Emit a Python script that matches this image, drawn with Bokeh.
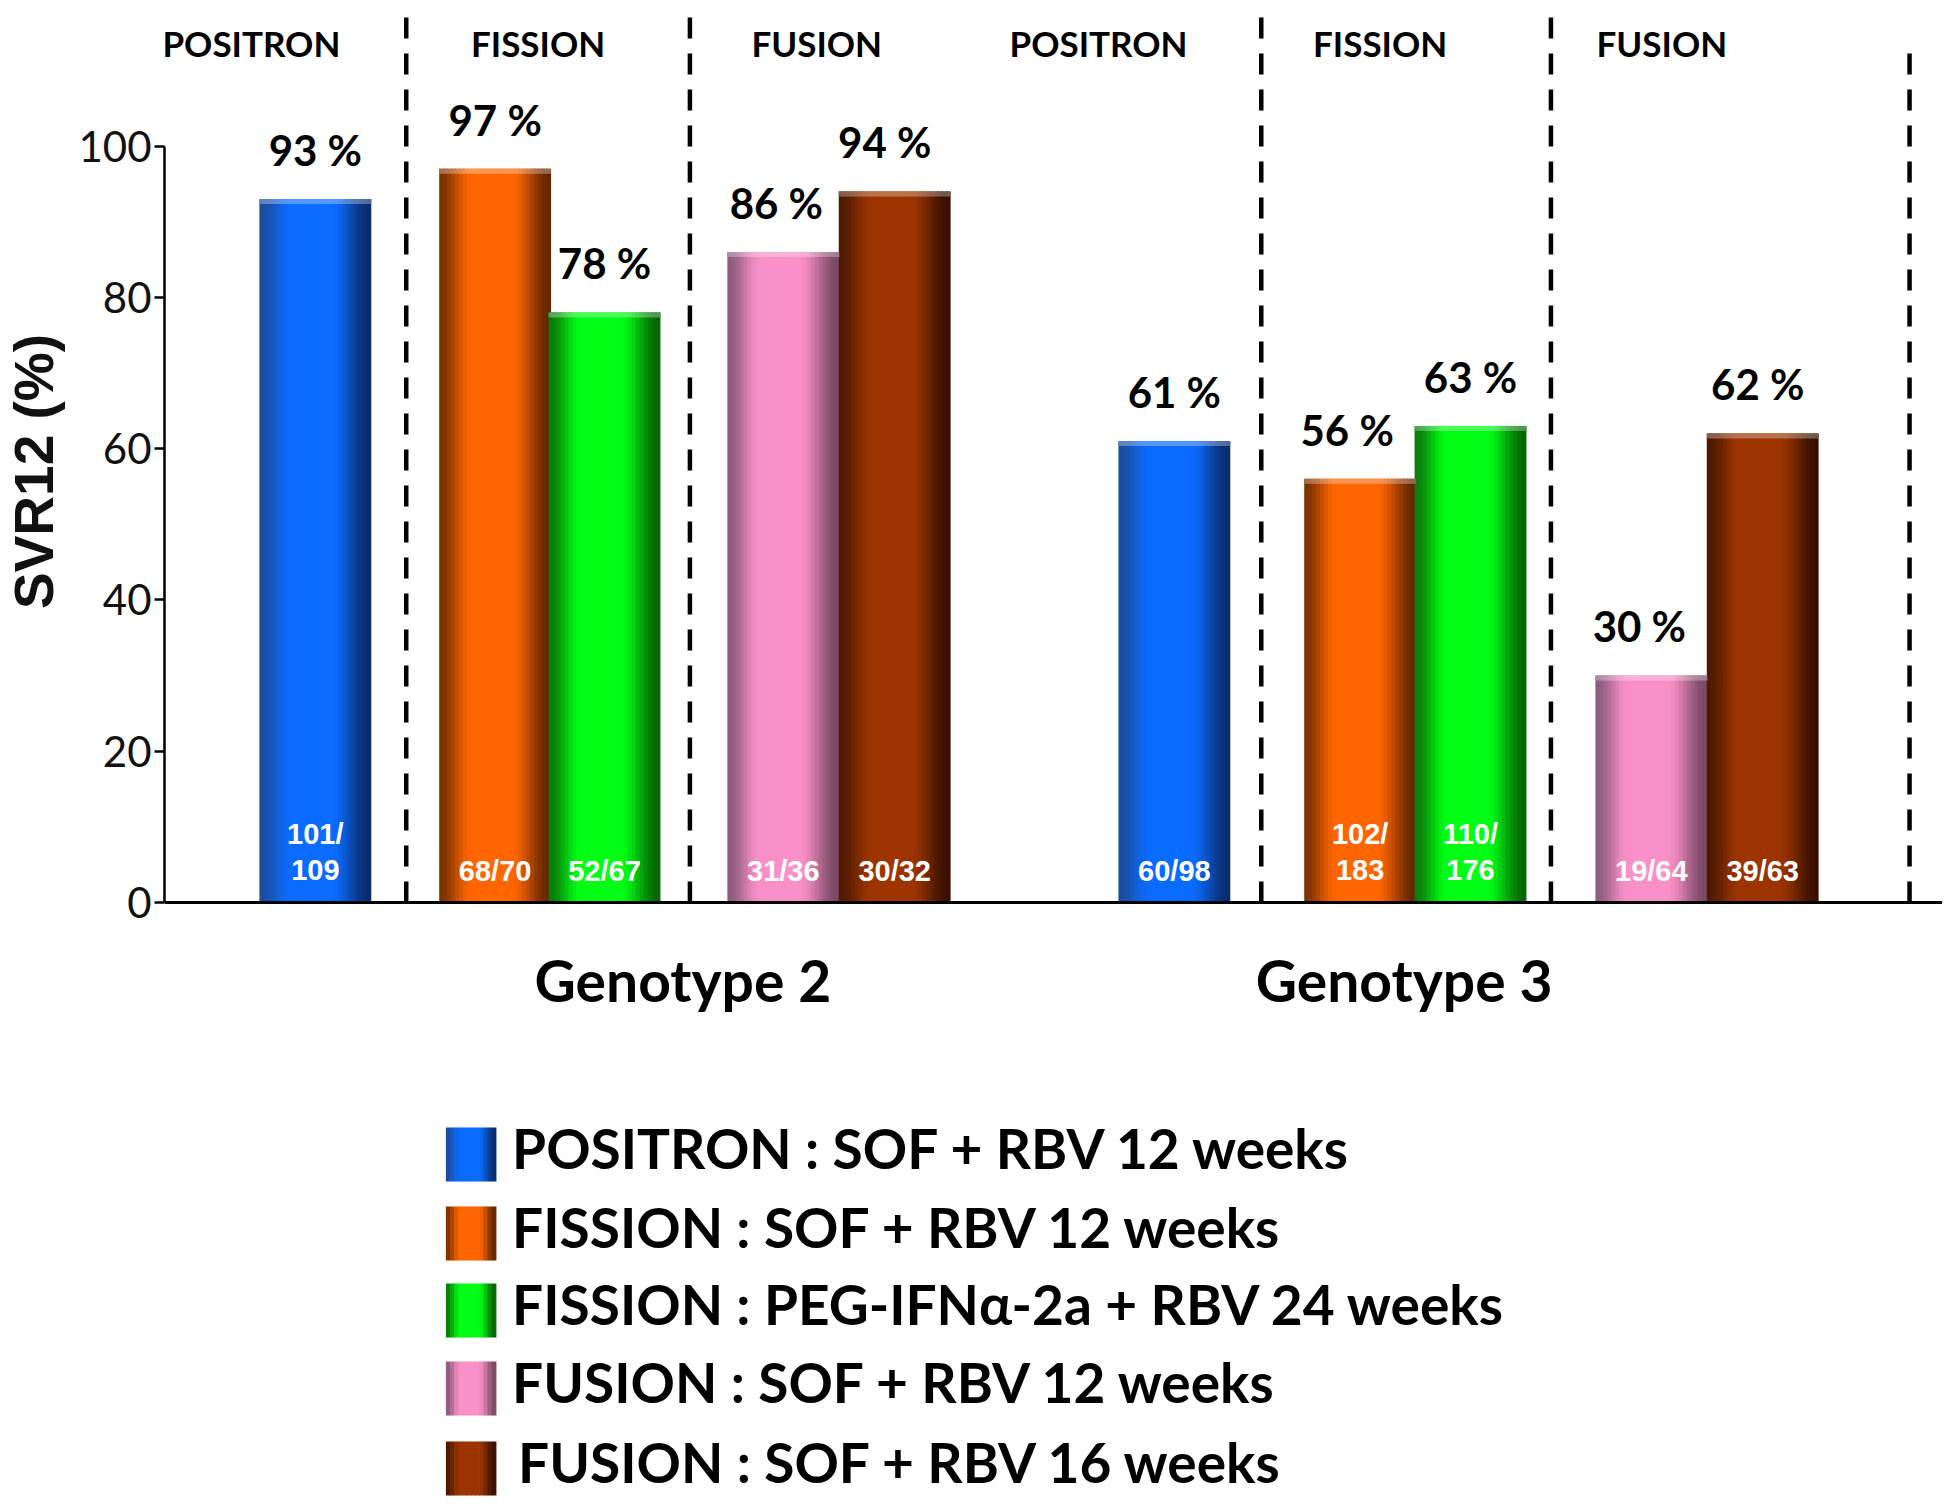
import numpy as np
from bokeh.plotting import figure
from bokeh.models import Range1d, Span, FixedTicker
from bokeh.layouts import column
from bokeh.core.properties import value
from bokeh.embed import file_html
from bokeh.resources import INLINE

# ---------------- data ----------------
genotypes = ["Genotype 2", "Genotype 3"]
studies = ["POSITRON", "FISSION", "FUSION"]
series = [
    "POSITRON : SOF + RBV 12 weeks",
    "FISSION : SOF + RBV 12 weeks",
    "FISSION : PEG-IFNα-2a + RBV 24 weeks",
    "FUSION : SOF + RBV 12 weeks",
    "FUSION : SOF + RBV 16 weeks",
]
svr_g2 = [93, 97, 78, 86, 94]
svr_g3 = [61, 56, 63, 30, 62]
n_g2 = ["101/\n109", "68/70", "52/67", "31/36", "30/32"]
n_g3 = ["60/98", "102/\n183", "110/\n176", "19/64", "39/63"]
y_ticks = [0, 20, 40, 60, 80, 100]

# ---------------- style / layout ----------------
shades = [  # left edge, centre, right edge
    ("#1c4c9e", "#0a6cff", "#0a2c6e"),
    ("#7c3000", "#ff6600", "#662600"),
    ("#0b7a0b", "#00ff14", "#056605"),
    ("#8c5a7a", "#fa90c8", "#7a4a66"),
    ("#4c1900", "#9c3400", "#381000"),
]
GROUP_X = [313.0, 1173.0]                       # first bar centre per group
SLOTS = [[0, 180, 289.5, 468.5, 580],
         [0, 186, 296.5, 477.5, 589]]
LABEL_DX = [[0, 0, 0, -7, -10], [0, -13, 0, -12, -5]]
BW = 111.0
NS = 28
DIVIDERS = [404, 688, 1260, 1550, 1909]
HEAD_X = [249, 536, 815, 1097, 1379, 1661]
GENO_X = [681, 1403]

PX_PER_UNIT = 7.565
Y0_PX = 902.0


def to_val(py):
    return (Y0_PX - py) / PX_PER_UNIT


DIV_TOP = [to_val(10)] * 4 + [to_val(47)]
BOLD = value("Lato")


def hex2rgb(h):
    h = h.lstrip("#")
    return np.array([int(h[i:i + 2], 16) for i in (0, 2, 4)], float)


def mix(a, b, w):
    c = hex2rgb(a) * (1 - w) + hex2rgb(b) * w
    return "#%02x%02x%02x" % tuple(int(round(v)) for v in c)


def smooth(u):
    u = min(max(u, 0.0), 1.0)
    return u * u * (3 - 2 * u)


def strip_colors(idx, n):
    le, ce, re = shades[idx]
    out = []
    for k in range(n):
        t = (k + 0.5) / n
        if t < 0.5:
            out.append(mix(le, ce, smooth(t / 0.3)))
        else:
            out.append(mix(re, ce, smooth((1 - t) / 0.36)))
    return out


# ---------------- chart figure ----------------
H1 = 942
p = figure(width=1942, height=H1, x_range=Range1d(162, 1942),
           y_range=Range1d(to_val(H1), to_val(0)), output_backend="svg",
           toolbar_location=None, x_axis_location=None,
           y_axis_location="left", min_border_left=162, min_border_right=0,
           min_border_top=0, min_border_bottom=0)
p.outline_line_color = None
p.grid.visible = False
p.background_fill_color = "white"

ax = p.yaxis[0]
ax.bounds = (0, 100)
ax.ticker = FixedTicker(ticks=y_ticks)
ax.minor_tick_line_color = None
ax.major_tick_out = 10
ax.major_tick_in = 0
ax.major_tick_line_width = 2.5
ax.axis_line_width = 2.5
ax.major_label_text_font = "Lato"
ax.major_label_text_font_size = "42px"
ax.major_label_text_color = "#111111"
ax.major_label_standoff = 3
ax.axis_label = "SVR12 (%)"
ax.axis_label_text_font = "Liberation Sans"
ax.axis_label_text_font_style = "bold"
ax.axis_label_text_font_size = "55px"
ax.axis_label_text_color = "#111111"
ax.axis_label_standoff = 10

# bars as shaded strips
sx, stop, scol, ccol = [], [], [], []
lab_x, lab_y, lab_t = [], [], []
n1_x, n1_t, n2a_x, n2a_t, n2b_t = [], [], [], [], []
for g, (vals, ns) in enumerate([(svr_g2, n_g2), (svr_g3, n_g3)]):
    for s, (v, nt) in enumerate(zip(vals, ns)):
        c = GROUP_X[g] + SLOTS[g][s]
        cols = strip_colors(s, NS)
        for k in range(NS):
            sx.append(c - BW / 2 + (k + 0.5) * BW / NS)
            stop.append(v)
            scol.append(cols[k])
            ccol.append(mix(cols[k], "#ffffff", 0.3))
        lab_x.append(c + LABEL_DX[g][s])
        lab_y.append(v)
        lab_t.append(f"{v} %")
        parts = nt.split("\n")
        if len(parts) == 1:
            n1_x.append(c)
            n1_t.append(parts[0])
        else:
            n2a_x.append(c)
            n2a_t.append(parts[0])
            n2b_t.append(parts[1])

p.vbar(x=sx, width=BW / NS * 1.25, top=stop, bottom=0,
       fill_color=scol, line_color=None)
# light top rim of each bar
CAP = 5 / PX_PER_UNIT
p.vbar(x=sx, width=BW / NS * 1.25, top=stop,
       bottom=[t - CAP for t in stop], fill_color=ccol, line_color=None)

# x axis line
p.add_layout(Span(location=0, dimension="width", line_color="black",
                  line_width=3))

# dashed separators
p.segment(x0=DIVIDERS, y0=[0] * len(DIVIDERS), x1=DIVIDERS, y1=DIV_TOP,
          line_color="black", line_width=4.5, line_dash="21 15")

# study headers
p.text(x=HEAD_X, y=[to_val(42)] * len(HEAD_X), text=studies * 2,
       text_font=BOLD, text_font_style="bold", text_font_size="35px",
       text_align="center", text_baseline="middle", text_color="black")

# value labels
p.text(x=lab_x, y=[v + 6.5 for v in lab_y], text=lab_t,
       text_font=BOLD, text_font_style="bold", text_font_size="42px",
       text_align="center", text_baseline="middle", text_color="black")

# n/N labels
kw = dict(text_font=value("Liberation Sans"), text_font_style="bold",
          text_font_size="29px", text_align="center",
          text_baseline="middle", text_color="white")
p.text(x=n1_x, y=[to_val(870)] * len(n1_x), text=n1_t, **kw)
p.text(x=n2a_x, y=[to_val(833)] * len(n2a_x), text=n2a_t, **kw)
p.text(x=n2a_x, y=[to_val(869)] * len(n2a_x), text=n2b_t, **kw)

# ---------------- lower figure: genotype labels + legend ----------------
H2 = 556
q = figure(width=1942, height=H2, x_range=Range1d(162, 1942),
           y_range=Range1d(H1 + H2, H1), output_backend="svg",
           toolbar_location=None, x_axis_location=None, y_axis_location=None,
           min_border=0, min_border_left=162)
q.outline_line_color = None
q.grid.visible = False

q.text(x=GENO_X, y=[979, 979], text=genotypes, text_font=BOLD,
       text_font_style="bold", text_font_size="57px", text_align="center",
       text_baseline="middle", text_color="black")

LEG_Y = [1147.5, 1226.5, 1303.5, 1381.5, 1461.5]
SW_L, SW_R, SW_H = 444, 494, 54
ql, qr, qt, qb, qc = [], [], [], [], []
for i, ly in enumerate(LEG_Y):
    cols = strip_colors(i, 12)
    w = (SW_R - SW_L) / 12
    for k in range(12):
        ql.append(SW_L + k * w - 0.3)
        qr.append(SW_L + (k + 1) * w + 0.3)
        qt.append(ly - SW_H / 2 + 6.5)
        qb.append(ly + SW_H / 2 + 6.5)
        qc.append(cols[k])
q.quad(left=ql, right=qr, top=qt, bottom=qb, fill_color=qc, line_color=None)
q.text(x=[510, 510, 510, 510, 516], y=LEG_Y, text=series, text_font=BOLD,
       text_font_style="bold", text_font_size="55px", text_align="left",
       text_baseline="middle", text_color="black")

layout = column(p, q, spacing=0)
open("out.html", "w").write(file_html(layout, INLINE))
